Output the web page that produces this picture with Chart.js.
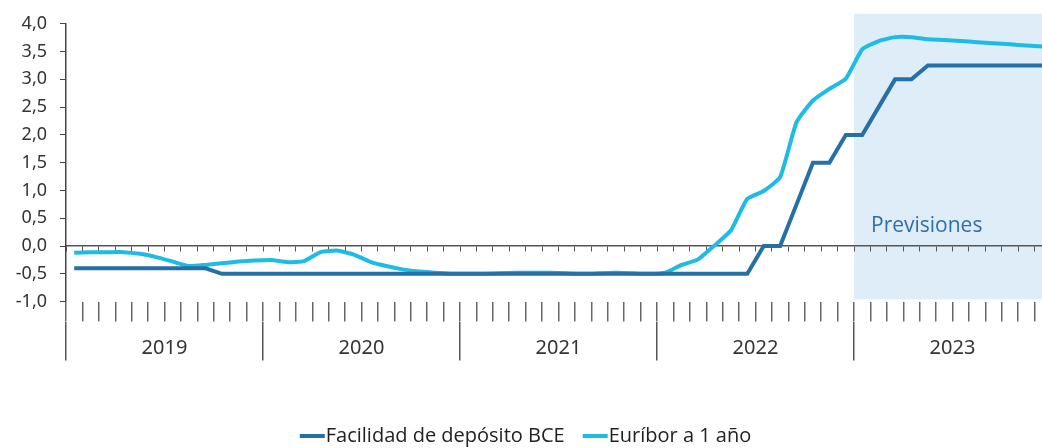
<!DOCTYPE html>
<html>
<head>
<meta charset="utf-8">
<script src="https://cdn.jsdelivr.net/npm/chart.js@4.4.1/dist/chart.umd.min.js"></script>
<style>
  html, body { margin: 0; padding: 0; overflow: hidden; background: #fff; }
</style>
</head>
<body>
<canvas id="grafico" width="1052" height="456"></canvas>
<script>
// datos mensuales ene-2019 a dic-2023
const years = ['2019', '2020', '2021', '2022', '2023'];
const meses = ['ene','feb','mar','abr','may','jun','jul','ago','sep','oct','nov','dic'];
const labels = years.flatMap(a => meses.map(m => m + '-' + a.slice(2)));

const facilidad = [
  -0.40, -0.40, -0.40, -0.40, -0.40, -0.40, -0.40, -0.40, -0.40, -0.50, -0.50, -0.50,
  -0.50, -0.50, -0.50, -0.50, -0.50, -0.50, -0.50, -0.50, -0.50, -0.50, -0.50, -0.50,
  -0.50, -0.50, -0.50, -0.50, -0.50, -0.50, -0.50, -0.50, -0.50, -0.50, -0.50, -0.50,
  -0.50, -0.50, -0.50, -0.50, -0.50, -0.50, 0.00, 0.00, 0.75, 1.50, 1.50, 2.00,
  2.00, 2.50, 3.00, 3.00, 3.25, 3.25, 3.25, 3.25, 3.25, 3.25, 3.25, 3.25
];
const euribor = [
  -0.12, -0.11, -0.11, -0.11, -0.14, -0.20, -0.28, -0.36, -0.34, -0.31, -0.28, -0.26,
  -0.25, -0.29, -0.27, -0.11, -0.08, -0.15, -0.28, -0.36, -0.42, -0.46, -0.48, -0.50,
  -0.50, -0.50, -0.49, -0.48, -0.48, -0.48, -0.49, -0.50, -0.49, -0.48, -0.49, -0.50,
  -0.48, -0.34, -0.24, 0.01, 0.28, 0.85, 0.99, 1.24, 2.23, 2.62, 2.83, 3.01,
  3.54, 3.69, 3.76, 3.76, 3.72, 3.71, 3.69, 3.67, 3.65, 3.63, 3.61, 3.59
];
const inicioPrevision = 48; // ene-2023

const colFacilidad = '#2470a7';
const colEuribor = '#1ebbe4';

// marcador de leyenda: linea pegada al texto
function marcador(color) {
  const c = document.createElement('canvas');
  c.width = 36; c.height = 4;
  const g = c.getContext('2d');
  g.fillStyle = color;
  g.fillRect(10, 0, 25, 4);
  return c;
}

// caja sombreada de previsiones
const previsiones = {
  id: 'previsiones',
  beforeDraw(chart) {
    const { ctx, scales: { x, y } } = chart;
    const paso = x.getPixelForValue(1) - x.getPixelForValue(0);
    const left = x.getPixelForValue(inicioPrevision) - paso / 2;
    const top = y.getPixelForValue(4.18);
    const bottom = y.getPixelForValue(-0.96);
    ctx.save();
    ctx.fillStyle = '#dfedf9';
    ctx.fillRect(left, top, chart.width - left, bottom - top);
    ctx.fillStyle = '#2f6fa9';
    ctx.font = '21px "Open Sans"';
    ctx.textBaseline = 'alphabetic';
    ctx.fillText('Previsiones', left + 17, y.getPixelForValue(0.25));
    ctx.restore();
  }
};

const ctx = document.getElementById('grafico').getContext('2d');

new Chart(ctx, {
  type: 'line',
  data: {
    labels: labels,
    datasets: [
      { label: 'Facilidad de depósito BCE', data: facilidad, borderColor: colFacilidad, backgroundColor: colFacilidad,
        borderWidth: 4, pointRadius: 0, tension: 0 },
      { label: 'Euríbor a 1 año', data: euribor, borderColor: colEuribor, backgroundColor: colEuribor,
        borderWidth: 4, pointRadius: 0, tension: 0.15 }
    ]
  },
  options: {
    responsive: false,
    animation: false,
    layout: { padding: { top: 18, left: 0, right: 1, bottom: 0 } },
    plugins: {
      tooltip: { enabled: false },
      legend: {
        position: 'bottom',
        labels: {
          usePointStyle: true, pointStyleWidth: 16, boxHeight: 4, padding: 18, color: '#222',
          font: { family: 'Open Sans', size: 20 },
          generateLabels(chart) {
            return Chart.defaults.plugins.legend.labels.generateLabels(chart)
              .map(l => ({ ...l, lineWidth: 0, pointStyle: marcador(l.strokeStyle) }));
          }
        }
      }
    },
    scales: {
      x: {
        axis: 'x', offset: true,
        grid: { offset: true, drawOnChartArea: false, tickLength: 20, color: '#666', lineWidth: 1.5 },
        border: { display: false },
        ticks: { display: false }
      },
      x0: {
        axis: 'x', type: 'category', labels: labels, position: { y: 0 }, offset: true,
        grid: { offset: true, drawOnChartArea: false, tickLength: 5, color: '#555' },
        border: { display: true, color: '#555', width: 1.5 },
        ticks: { display: false }
      },
      years: {
        axis: 'x', type: 'category', labels: years, position: 'bottom', offset: true,
        grid: { offset: true, drawOnChartArea: false, tickLength: 39, color: '#555', lineWidth: 1.5 },
        border: { display: false },
        ticks: { padding: -24, color: '#333', font: { family: 'Noto Sans', size: 20 } },
        title: { display: true, text: '', padding: { top: 0, bottom: 57 } }
      },
      y: {
        min: -1, max: 4,
        ticks: {
          stepSize: 0.5, padding: 13, color: '#333',
          font: { family: 'Noto Sans', size: 18 },
          callback: v => v.toFixed(1).replace('.', ',')
        },
        grid: { drawOnChartArea: false, tickLength: 6, color: '#444' },
        border: { color: '#444', width: 1.5 },
        afterFit(s) { s.width = 66; }
      }
    }
  },
  plugins: [previsiones]
});
</script>
</body>
</html>
